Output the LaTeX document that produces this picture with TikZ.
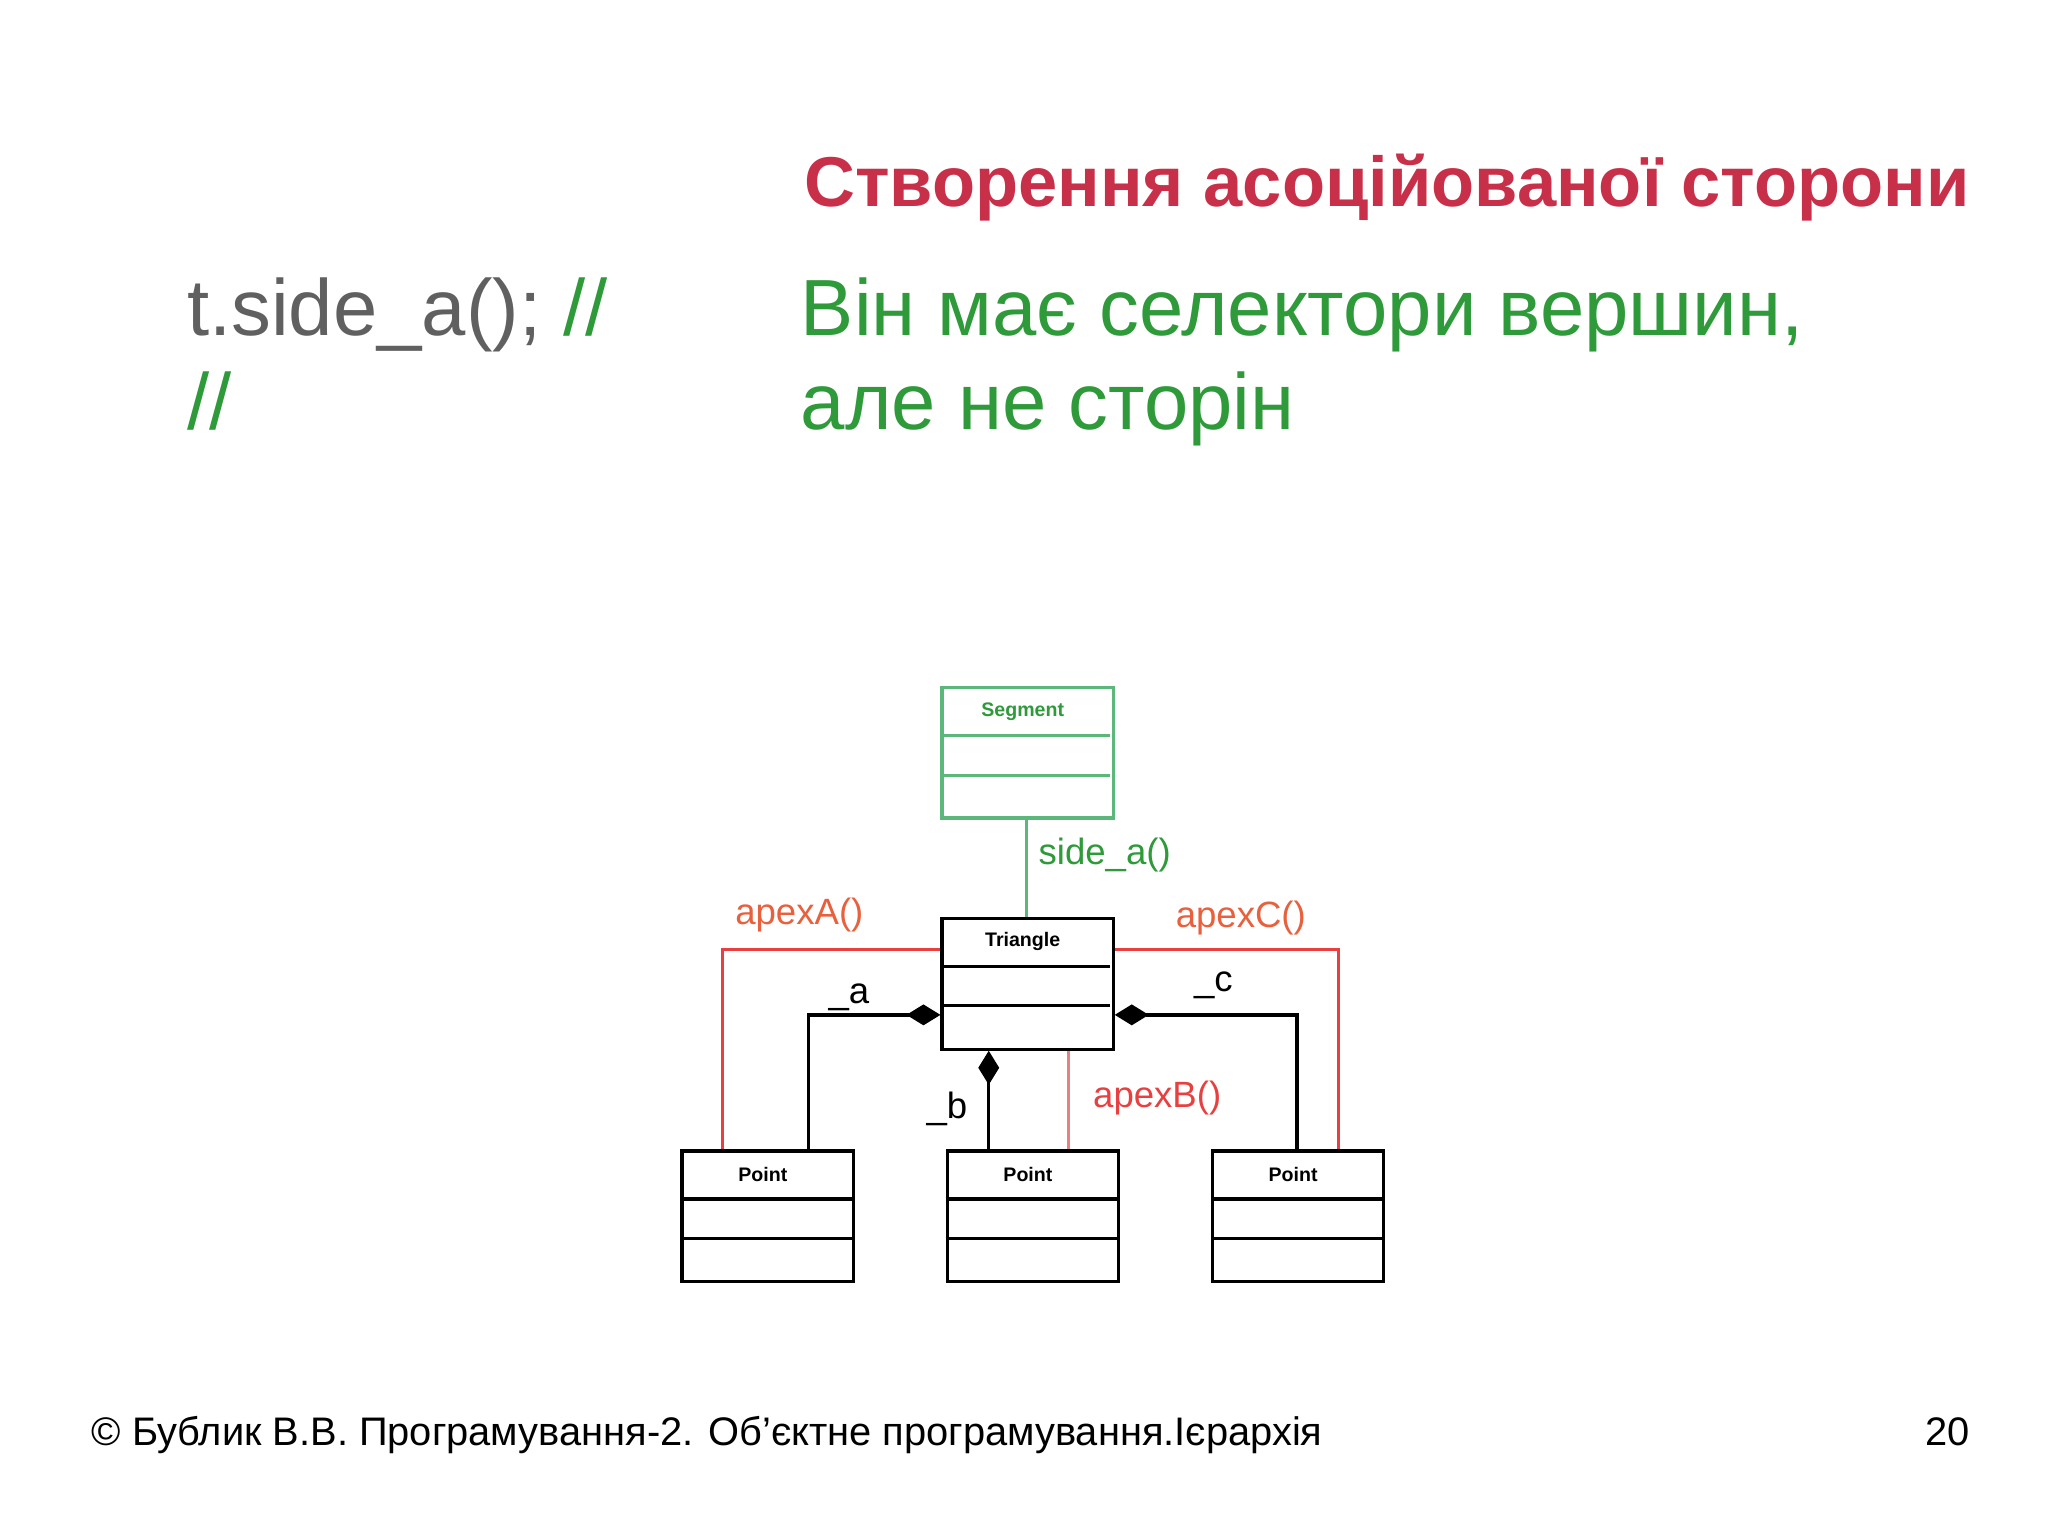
\documentclass[tikz,border=0pt]{standalone}
\usepackage{fontspec}
\setmainfont{Liberation Sans}
\usetikzlibrary{arrows.meta}
\definecolor{ttl}{HTML}{C8304A}
\definecolor{grn}{HTML}{2E9A3A}
\definecolor{lgrn}{HTML}{5CB87A}
\definecolor{org}{HTML}{E8603C}
\definecolor{rd}{HTML}{E84040}
\definecolor{pk}{HTML}{E88080}
\definecolor{gry}{HTML}{606060}
\tikzset{x=1pt,y=-1pt,
 cls/.style={draw,line width=2.5pt,minimum width=131pt,minimum height=100pt,inner sep=0pt},
 lbl/.style={font=\fontsize{28}{32}\selectfont,inner sep=0pt,anchor=base},
 conn/.style={line width=2.5pt}}
\begin{document}
\begin{tikzpicture}
\useasboundingbox (0,0) rectangle (1568,1176);
\node[anchor=base east,text=ttl,font=\fontsize{54}{60}\selectfont\bfseries,inner sep=0pt] (title) at (1508,158) {Створення асоційованої сторони};
\node[anchor=base west,inner sep=0pt,font=\fontsize{61}{70}\selectfont,text=gry] (code) at (143,257) {t.side\_a(); \textcolor{grn}{//}};
\node[anchor=base west,inner sep=0pt,font=\fontsize{61}{70}\selectfont,text=grn] (code2) at (143,329) {//};
\node[anchor=base west,inner sep=0pt,font=\fontsize{61}{70}\selectfont,text=grn] (g1) at (613,257) {Він має селектори вершин,};
\node[anchor=base west,inner sep=0pt,font=\fontsize{61}{70}\selectfont,text=grn] (g2) at (613,329) {але не сторін};
% classes
\node[cls,draw=lgrn,anchor=north west] (seg) at (720,525) {};
\draw[lgrn,line width=2.5pt] (720,563) -- (850,563) (720,594) -- (850,594);
\node[font=\fontsize{15}{18}\selectfont\bfseries,text=grn] (segt) at (783,545) {Segment};
\node[cls,anchor=north west] (tri) at (720,702) {};
\draw[line width=2.5pt] (720,740) -- (850,740) (720,770) -- (850,770);
\node[font=\fontsize{15}{18}\selectfont\bfseries] (trit) at (783,721) {Triangle};
\foreach \n/\x in {p1/521,p2/724,p3/927}{
 \node[cls,anchor=north west] (\n) at (\x,880) {};
 \draw[line width=2.5pt] (\x,918) -- (\x+131,918) (\x,948) -- (\x+131,948);
 \node[font=\fontsize{15}{18}\selectfont\bfseries] at (\x+63,899) {Point};
}
% connectors
\draw[conn,lgrn] (seg.south -| 786,0) -- (tri.north -| 786,0);
\node[lbl,text=grn,anchor=base west] at (795,662) {side\_a()};
\draw[conn,rd] (tri.west |- 0,727) -- (553,727) -- (p1.north -| 553,0);
\node[lbl,text=org] at (612,708) {apexA()};
\draw[conn,rd] (tri.east |- 0,727) -- (1025,727) -- (p3.north -| 1025,0);
\node[lbl,text=org] at (950,710) {apexC()};
\draw[conn,{Diamond[length=26pt,width=16pt]}-] (tri.west |- 0,777) -- (619,777) -- (p1.north -| 619,0);
\node[lbl] at (650,768) {\_a};
\draw[conn,{Diamond[length=26pt,width=16pt]}-] (tri.east |- 0,777) -- (993,777) -- (p3.north -| 993,0);
\node[lbl] at (929,759) {\_c};
\draw[conn,{Diamond[length=26pt,width=16pt]}-] (tri.south -| 757,0) -- (p2.north -| 757,0);
\node[lbl] at (725,856) {\_b};
\draw[conn,pk] (tri.south -| 818,0) -- (p2.north -| 818,0);
\node[lbl,text=rd] at (886,848) {apexB()};
% footer
\node[anchor=base west,inner sep=0pt,font=\fontsize{30.5}{34}\selectfont] (foot) at (70,1107) {© Бублик В.В. Програмування-2. Об\char39єктне програмування.Ієрархія};
\node[anchor=base east,inner sep=0pt,font=\fontsize{30.5}{34}\selectfont] (pg) at (1508,1107) {20};
\end{tikzpicture}
\end{document}
